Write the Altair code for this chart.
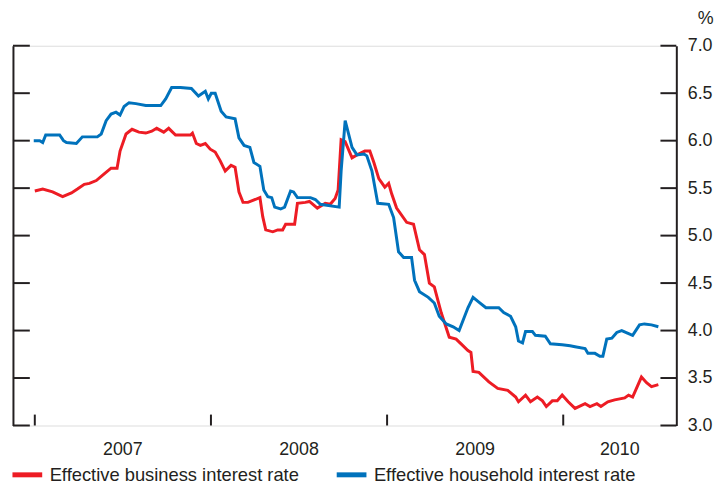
import altair as alt
import pandas as pd

# Decimal-year positions and rates (%)
bus_t = [2007.000, 2007.045, 2007.101, 2007.158, 2007.208, 2007.242, 2007.281, 2007.310, 2007.349, 2007.394,
         2007.433, 2007.467, 2007.484, 2007.518, 2007.552, 2007.591, 2007.630, 2007.664, 2007.692, 2007.732,
         2007.760, 2007.799, 2007.884, 2007.895, 2007.917, 2007.940, 2007.968, 2007.996, 2008.024, 2008.052,
         2008.081, 2008.114, 2008.137, 2008.159, 2008.182, 2008.210, 2008.278, 2008.294, 2008.311, 2008.351,
         2008.379, 2008.407, 2008.424, 2008.475, 2008.491, 2008.536, 2008.559, 2008.604, 2008.649, 2008.677,
         2008.705, 2008.722, 2008.739, 2008.762, 2008.801, 2008.829, 2008.874, 2008.902, 2008.925, 2008.953,
         2008.987, 2009.009, 2009.026, 2009.054, 2009.111, 2009.150, 2009.184, 2009.212, 2009.240, 2009.268,
         2009.307, 2009.353, 2009.392, 2009.420, 2009.459, 2009.476, 2009.488, 2009.521, 2009.578, 2009.628,
         2009.685, 2009.730, 2009.746, 2009.786, 2009.814, 2009.853, 2009.882, 2009.904, 2009.938, 2009.966,
         2009.994, 2010.028, 2010.067, 2010.124, 2010.152, 2010.191, 2010.214, 2010.253, 2010.292, 2010.349,
         2010.371, 2010.394, 2010.444, 2010.473, 2010.501, 2010.540]
bus_v = [5.47, 5.49, 5.46, 5.41, 5.45, 5.49, 5.54, 5.55, 5.58, 5.65,
         5.71, 5.71, 5.89, 6.07, 6.12, 6.09, 6.08, 6.10, 6.13, 6.09,
         6.13, 6.06, 6.06, 6.08, 5.97, 5.95, 5.97, 5.91, 5.88, 5.79,
         5.68, 5.74, 5.72, 5.46, 5.35, 5.35, 5.40, 5.20, 5.06, 5.04,
         5.06, 5.06, 5.12, 5.12, 5.34, 5.35, 5.36, 5.29, 5.34, 5.33,
         5.39, 5.48, 6.01, 5.99, 5.82, 5.85, 5.89, 5.89, 5.77, 5.60,
         5.51, 5.55, 5.44, 5.29, 5.14, 5.12, 4.85, 4.80, 4.50, 4.46,
         4.19, 3.93, 3.91, 3.86, 3.79, 3.77, 3.57, 3.56, 3.46, 3.39,
         3.37, 3.30, 3.25, 3.32, 3.25, 3.30, 3.26, 3.20, 3.26, 3.26,
         3.32, 3.25, 3.18, 3.23, 3.20, 3.23, 3.20, 3.25, 3.27, 3.29,
         3.32, 3.30, 3.51, 3.45, 3.41, 3.43]

hh_t = [2006.994, 2007.028, 2007.045, 2007.062, 2007.141, 2007.163, 2007.180, 2007.236, 2007.270, 2007.355,
        2007.377, 2007.405, 2007.433, 2007.461, 2007.484, 2007.507, 2007.535, 2007.574, 2007.630, 2007.715,
        2007.743, 2007.777, 2007.827, 2007.889, 2007.929, 2007.968, 2007.985, 2008.002, 2008.024, 2008.058,
        2008.086, 2008.137, 2008.159, 2008.188, 2008.221, 2008.244, 2008.278, 2008.300, 2008.323, 2008.345,
        2008.362, 2008.396, 2008.418, 2008.452, 2008.469, 2008.491, 2008.565, 2008.593, 2008.621, 2008.728,
        2008.739, 2008.762, 2008.801, 2008.829, 2008.869, 2008.885, 2008.914, 2008.947, 2009.009, 2009.037,
        2009.065, 2009.094, 2009.139, 2009.156, 2009.184, 2009.234, 2009.268, 2009.296, 2009.336, 2009.375,
        2009.409, 2009.459, 2009.488, 2009.521, 2009.561, 2009.634, 2009.662, 2009.701, 2009.730, 2009.746,
        2009.769, 2009.786, 2009.825, 2009.842, 2009.898, 2009.927, 2009.994, 2010.039, 2010.067, 2010.124,
        2010.140, 2010.180, 2010.208, 2010.225, 2010.247, 2010.276, 2010.304, 2010.332, 2010.394, 2010.433,
        2010.461, 2010.501, 2010.540]
hh_v = [6.00, 6.00, 5.98, 6.06, 6.06, 6.00, 5.98, 5.97, 6.04, 6.04,
        6.07, 6.21, 6.28, 6.30, 6.27, 6.36, 6.40, 6.39, 6.37, 6.37,
        6.44, 6.56, 6.56, 6.55, 6.47, 6.52, 6.44, 6.50, 6.50, 6.31,
        6.25, 6.23, 6.03, 5.95, 5.93, 5.77, 5.73, 5.48, 5.41, 5.40,
        5.30, 5.28, 5.30, 5.47, 5.46, 5.40, 5.40, 5.38, 5.33, 5.30,
        5.68, 6.21, 5.93, 5.85, 5.86, 5.84, 5.68, 5.34, 5.33, 5.19,
        4.83, 4.77, 4.77, 4.53, 4.41, 4.35, 4.29, 4.15, 4.07, 4.04,
        4.00, 4.24, 4.35, 4.30, 4.24, 4.24, 4.19, 4.15, 4.04, 3.89,
        3.87, 3.99, 3.99, 3.95, 3.94, 3.86, 3.85, 3.84, 3.83, 3.81,
        3.76, 3.76, 3.73, 3.73, 3.91, 3.92, 3.98, 4.00, 3.95, 4.06,
        4.07, 4.06, 4.04]

series_names = ["Effective business interest rate", "Effective household interest rate"]
series_colors = ["#ED1C24", "#0072BC"]
year_starts = [2007, 2008, 2009, 2010]
year_labels = ["2007", "2008", "2009", "2010"]
x_domain = [2006.876, 2010.642]
y_ticks = [3.0, 3.5, 4.0, 4.5, 5.0, 5.5, 6.0, 6.5, 7.0]

# year labels centred between year starts (last one between 2010 and the axis end)
label_pos = [(year_starts[i] + (year_starts[i + 1] if i + 1 < len(year_starts) else x_domain[1])) / 2
             for i in range(len(year_starts))]

df = pd.concat([
    pd.DataFrame({"t": bus_t, "v": bus_v, "series": series_names[0]}),
    pd.DataFrame({"t": hh_t, "v": hh_v, "series": series_names[1]}),
])

W, H = 669, 383
AX = "#231F20"
FONT = "Liberation Sans"

xscale = alt.Scale(domain=x_domain, nice=False, zero=False)
yscale = alt.Scale(domain=[3.0, 7.0], nice=False, zero=False)

lines = alt.Chart(df).mark_line(strokeWidth=3, interpolate="linear").encode(
    x=alt.X("t:Q", scale=xscale,
            axis=alt.Axis(labels=False, ticks=False, domain=True, domainColor=AX, domainWidth=2,
                          grid=False, title="")),
    y=alt.Y("v:Q", scale=yscale,
            axis=alt.Axis(orient="right", values=y_ticks, format=".1f", ticks=False, domain=True,
                          domainColor=AX, domainWidth=2, grid=False, labelFontSize=18,
                          labelPadding=11, labelColor=AX, labelFont=FONT,
                          title="%", titleAngle=0, titleX=29, titleY=-22, titleAlign="center",
                          titleBaseline="alphabetic", titleFontSize=18, titleFontWeight="normal",
                          titleColor=AX, titleFont=FONT)),
    color=alt.Color("series:N",
                    scale=alt.Scale(domain=series_names, range=series_colors),
                    legend=alt.Legend(orient="none", legendX=-3, legendY=415, direction="horizontal",
                                      symbolType="stroke", symbolSize=900, symbolStrokeWidth=5,
                                      labelFontSize=18.5, labelFont=FONT, labelColor=AX, labelLimit=400,
                                      labelOffset=5, columnPadding=27, title=None, padding=0)),
)

tick_df = pd.DataFrame({"v": y_ticks})
left_ticks = alt.Chart(tick_df).mark_rule(color=AX, strokeWidth=2).encode(
    y=alt.Y("v:Q", scale=yscale,
            axis=alt.Axis(orient="left", labels=False, ticks=False, domain=True, domainColor=AX,
                          domainWidth=2, grid=False, title="")),
    x=alt.value(0), x2=alt.value(17),
)
right_ticks = alt.Chart(tick_df).mark_rule(color=AX, strokeWidth=2).encode(
    y=alt.Y("v:Q", scale=yscale, axis=None),
    x=alt.value(W - 16), x2=alt.value(W),
)
year_df = pd.DataFrame({"t": year_starts})
bottom_ticks = alt.Chart(year_df).mark_rule(color=AX, strokeWidth=2).encode(
    x=alt.X("t:Q", scale=xscale, axis=None),
    y=alt.value(H - 11), y2=alt.value(H),
)
lab_df = pd.DataFrame({"t": label_pos, "label": year_labels})
year_text = alt.Chart(lab_df).mark_text(
    fontSize=18, font=FONT, color=AX, align="center", baseline="alphabetic"
).encode(
    x=alt.X("t:Q", scale=xscale, axis=None),
    y=alt.value(H + 30),
    text="label:N",
)

chart = alt.layer(lines, left_ticks, right_ticks, bottom_ticks, year_text).resolve_axis(
    y="independent"
).resolve_scale(y="shared", x="shared").properties(
    width=W, height=H, autosize="none",
    padding={"left": 5, "top": 36, "right": 38, "bottom": 62},
).configure_view(stroke=None).configure(font=FONT)

chart.save("out.html", embed_options={"renderer": "svg", "actions": False})
